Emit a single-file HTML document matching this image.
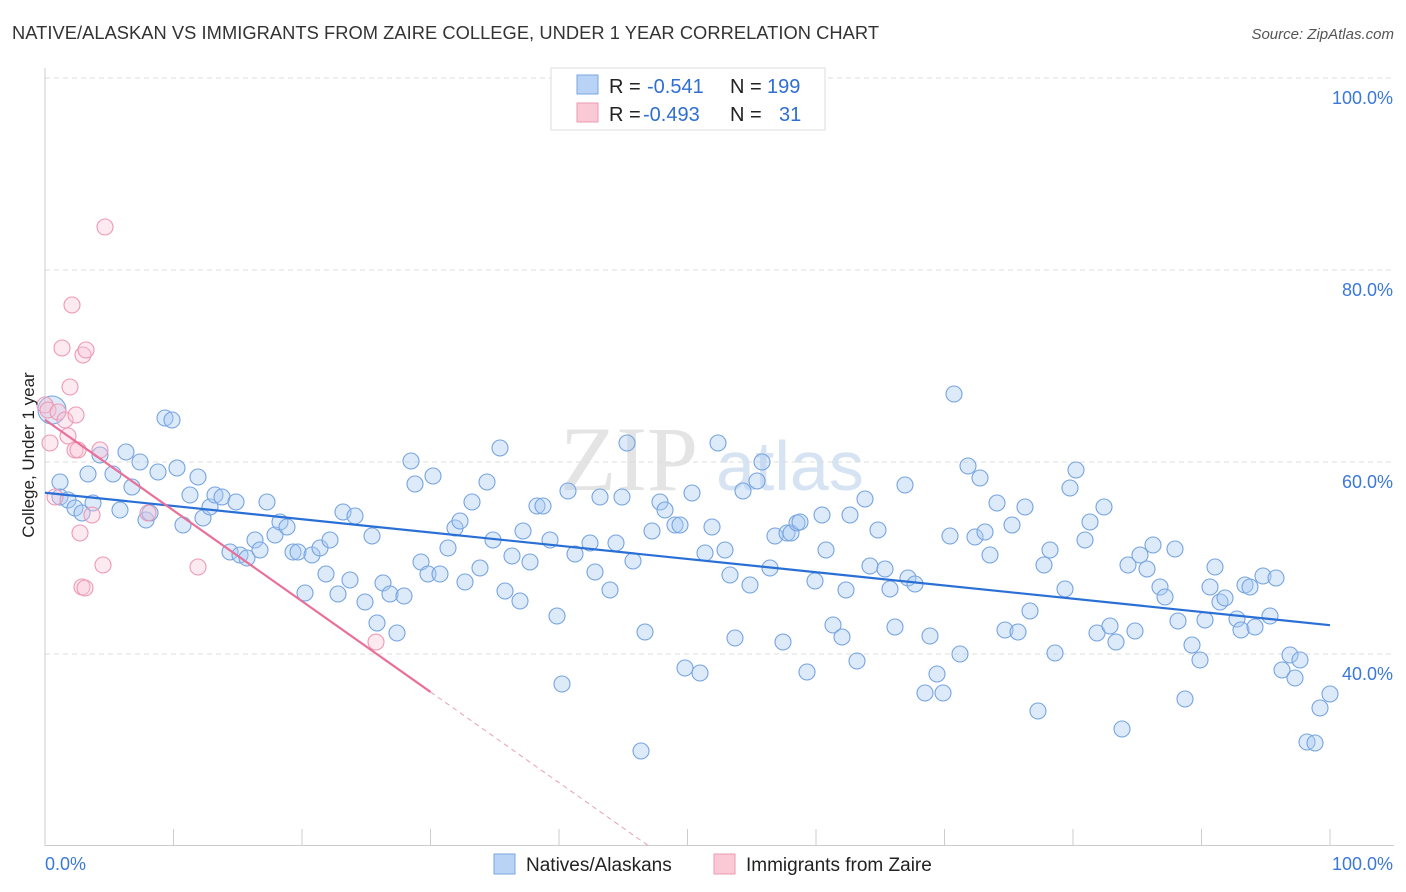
<!DOCTYPE html>
<html><head><meta charset="utf-8"><style>
body{margin:0;background:#fff;font-family:"Liberation Sans",sans-serif;}
svg{display:block}
</style></head><body>
<svg id="c" width="1406" height="892">
<text x="12" y="39" font-size="18.3" fill="#333" textLength="867">NATIVE/ALASKAN VS IMMIGRANTS FROM ZAIRE COLLEGE, UNDER 1 YEAR CORRELATION CHART</text>
<text x="1394" y="39" font-size="15" fill="#555" font-style="italic" text-anchor="end">Source: ZipAtlas.com</text>
<text x="560" y="490" font-size="92" fill="#e4e4e4" font-family="Liberation Serif,serif">ZIP</text>
<text x="716" y="490" font-size="70" fill="#d5e3f3">atlas</text>
<g id="grid"></g><g id="marks"></g>
<text transform="translate(34,455) rotate(-90)" font-size="17" fill="#222" text-anchor="middle">College, Under 1 year</text>
<g>
<rect x="551" y="68" width="274" height="62" fill="#fff" stroke="#ddd"/>
<rect x="577" y="75" width="21" height="19" fill="#b8d3f5" stroke="#7aa7e0"/>
<rect x="577" y="103" width="21" height="19" fill="#fbc8d6" stroke="#ee9ab2"/>
<text x="609" y="93" font-size="20" fill="#222">R = </text><text x="647" y="93" font-size="20" fill="#2f6fd1">-0.541</text>
<text x="730" y="93" font-size="20" fill="#222">N = </text><text x="767" y="93" font-size="20" fill="#2f6fd1">199</text>
<text x="609" y="121" font-size="20" fill="#222">R = </text><text x="643" y="121" font-size="20" fill="#2f6fd1">-0.493</text>
<text x="730" y="121" font-size="20" fill="#222">N = </text><text x="779" y="121" font-size="20" fill="#2f6fd1">31</text>
</g>
<g>
<rect x="494" y="854" width="21" height="20" fill="#b8d3f5" stroke="#7aa7e0"/>
<text x="526" y="871" font-size="19" fill="#222">Natives/Alaskans</text>
<rect x="714" y="854" width="21" height="20" fill="#fbc8d6" stroke="#ee9ab2"/>
<text x="746" y="871" font-size="19" fill="#222">Immigrants from Zaire</text>
</g>
</svg>
<script>
const yTicks=[40,60,80,100];
const blueX=[52,60,60,68,75,82,88,93,100,113,120,126,132,140,146,150,158,165,172,177,183,190,198,203,210,215,222,230,236,240,247,255,260,267,275,280,287,293,298,305,312,320,326,330,338,343,350,355,365,372,377,383,390,397,404,411,415,421,428,433,440,448,455,460,465,472,480,487,493,500,505,512,520,523,530,537,543,550,557,562,568,575,590,600,595,610,616,622,627,633,641,645,652,660,665,675,680,685,692,700,705,712,718,725,730,735,743,750,757,762,770,775,783,787,791,797,800,807,815,822,826,833,842,846,850,857,865,870,878,885,890,895,905,908,915,925,930,937,943,950,954,960,968,975,980,985,990,997,1005,1012,1018,1025,1030,1044,1050,1055,1038,1065,1070,1076,1085,1090,1097,1104,1110,1116,1122,1128,1135,1140,1147,1153,1160,1165,1175,1178,1185,1192,1200,1205,1210,1215,1220,1225,1237,1241,1245,1250,1255,1263,1270,1276,1282,1290,1295,1300,1307,1315,1320,1330].map(p=>(p-45)/12.85);
const blueY=[410,482,497,500,508,513,474,503,455,474,510,452,487,462,520,513,472,418,420,468,525,495,477,518,507,495,497,552,502,555,558,540,550,502,535,522,527,552,552,593,555,548,574,540,594,512,580,516,602,536,623,583,594,633,596,461,484,562,574,476,574,548,528,521,582,502,568,482,540,448,591,556,601,531,562,506,506,540,616,684,491,554,543,497,572,590,543,497,443,561,751,632,531,502,510,525,525,668,493,673,553,527,443,550,575,638,491,585,481,462,568,536,642,533,533,523,522,672,581,515,550,625,637,590,515,661,499,566,530,569,589,627,485,578,584,693,636,674,693,536,394,654,466,537,478,532,555,503,630,525,632,507,611,565,550,653,711,589,488,470,540,522,633,507,626,642,729,565,631,555,569,545,587,597,549,621,699,645,660,620,587,567,602,598,619,630,585,587,627,576,616,578,670,655,678,660,742,743,708,694].map(p=>(1038-p)/9.6);
const pinkX=[45,48,50,55,58,62,65,68,70,72,75,76,78,80,82,85,83,86,92,100,103,105,148,198,376].map(p=>(p-45)/12.85);
const pinkY=[405,410,443,497,412,348,420,436,387,305,450,415,450,533,587,588,355,350,515,450,565,227,513,567,642].map(p=>(1038-p)/9.6);
const blueFit=[56.8,43.0], pinkFit=[64.4,-30.1];
const X=v=>45+v*12.85, Y=v=>1038-v*9.6;
const NS='http://www.w3.org/2000/svg';
function mk(t,a,p){const e=document.createElementNS(NS,t);for(const k in a)e.setAttribute(k,a[k]);p.appendChild(e);return e;}
const gridG=document.getElementById('grid'), marksG=document.getElementById('marks');
for(const t of yTicks){
 const l=mk('line',{x1:45,x2:1394,y1:Y(t),y2:Y(t),stroke:'#ddd','stroke-dasharray':'5,4'},gridG);
 
 
 const tx=mk('text',{x:1393,y:Y(t)+26,'font-size':18,fill:'#3b78d8','text-anchor':'end'},gridG);
 tx.textContent=t.toFixed(1)+'%';
 
 
}
mk('line',{x1:45,x2:45,y1:68,y2:846,stroke:'#ccc'},gridG);
mk('line',{x1:45,x2:1394,y1:845.5,y2:845.5,stroke:'#ccc'},gridG);
for(let i=1;i<=10;i++){mk('line',{x1:X(i*10),x2:X(i*10),y1:829,y2:846,stroke:'#ccc'},gridG);}
const xl=mk('text',{x:45,y:870,'font-size':18,fill:'#3b78d8'},gridG);xl.textContent='0.0%';


const xr=mk('text',{x:1393,y:870,'font-size':18,fill:'#3b78d8','text-anchor':'end'},gridG);xr.textContent='100.0%';


blueX.forEach((x,i)=>{const c=mk('circle',{cx:X(x),cy:Y(blueY[i]),r:i==0?14:8,fill:'rgba(170,202,242,0.4)',stroke:'#76a4e0','stroke-width':1.1},marksG);
 
 });
pinkX.forEach((x,i)=>{const c=mk('circle',{cx:X(x),cy:Y(pinkY[i]),r:8,fill:'rgba(248,195,212,0.35)',stroke:'#ee98b4','stroke-width':1.1},marksG);
 
 });
const bl=mk('line',{x1:X(0),y1:Y(blueFit[0]),x2:X(100),y2:Y(blueFit[1]),stroke:'#2a6fd6','stroke-width':2.2},marksG);


const ps=(pinkFit[1]-pinkFit[0])/100, pe=30;
const pl=mk('line',{x1:X(0),y1:Y(pinkFit[0]),x2:X(pe),y2:Y(pinkFit[0]+ps*pe),stroke:'#e8709a','stroke-width':2.2},marksG);


const xe=(20-pinkFit[0])/ps;
const pd=mk('line',{x1:X(pe),y1:Y(pinkFit[0]+ps*pe),x2:X(xe),y2:Y(20),stroke:'#e8a0b8','stroke-width':1,'stroke-dasharray':'5,4'},marksG);


</script>
</body></html>
